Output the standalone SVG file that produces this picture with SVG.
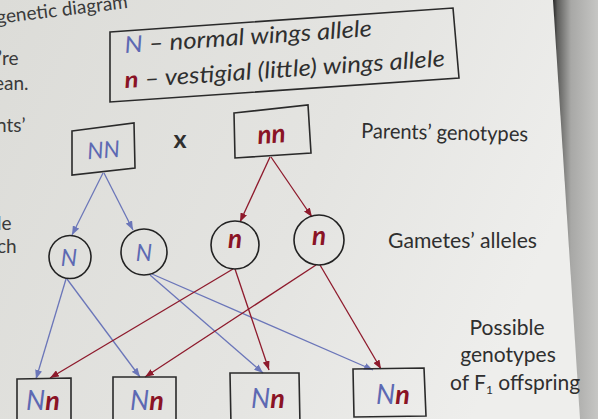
<svg xmlns="http://www.w3.org/2000/svg" width="598" height="419" viewBox="0 0 598 419">
<defs>
<linearGradient id="page" x1="0" y1="0" x2="1" y2="0.3">
<stop offset="0" stop-color="#dcdcd8"/>
<stop offset="0.6" stop-color="#e4e4e1"/>
<stop offset="1" stop-color="#eeeeec"/>
</linearGradient>
<linearGradient id="bind" x1="0" y1="0" x2="1" y2="0">
<stop offset="0" stop-color="#262626"/>
<stop offset="0.1" stop-color="#5e5e5c"/>
<stop offset="0.4" stop-color="#a8a8a6"/>
<stop offset="1" stop-color="#c6c6c4"/>
</linearGradient>
<marker id="ab" viewBox="0 0 9 7" refX="9" refY="3.5" markerWidth="9" markerHeight="7" markerUnits="userSpaceOnUse" orient="auto">
<path d="M0,0 L9,3.5 L0,7 z" fill="#6b76b9"/>
</marker>
<marker id="ar" viewBox="0 0 9 7" refX="9" refY="3.5" markerWidth="9" markerHeight="7" markerUnits="userSpaceOnUse" orient="auto">
<path d="M0,0 L9,3.5 L0,7 z" fill="#8e1a2c"/>
</marker>
</defs>
<style>
.box{fill:none;stroke:#2a2a2a;stroke-width:1.6}
.circ{fill:none;stroke:#222;stroke-width:1.6}
.lb{stroke:#6b76b9;stroke-width:1.3;fill:none;marker-end:url(#ab)}
.lr{stroke:#8e1a2c;stroke-width:1.3;fill:none;marker-end:url(#ar)}
.t{font-family:Lato,"Open Sans",sans-serif;fill:#2f2f2f}
.it{font-style:italic}
.B{fill:#5d69b3}
.R{fill:#8a1325;font-weight:bold}
.margin{font-family:Lato,"Open Sans",sans-serif;fill:#3a3a3a;font-size:19px}
</style>
<rect x="0" y="0" width="598" height="419" fill="url(#page)"/>
<polygon points="553,0 598,0 598,419 580,419" fill="url(#bind)"/>
<g id="margin-text">
<text class="margin" x="-3" y="24" transform="rotate(-7 -3 24)">genetic diagram</text>
<text class="margin" x="-2" y="65">’re</text>
<text class="margin" x="-6" y="90">ean.</text>
<text class="margin" x="-4" y="132">nts’</text>
<text class="margin" x="-3" y="230">le</text>
<text class="margin" x="-3" y="253">ch</text>
</g>
<g id="legend">
<polygon class="box" points="110,32 453,8 459,78 110,102"/>
<text class="t it" x="125" y="53" font-size="23" transform="rotate(-3.9 125 53)" textLength="248" lengthAdjust="spacingAndGlyphs"><tspan class="B">N</tspan> – normal wings allele</text>
<text class="t it" x="125" y="88" font-size="23" transform="rotate(-3.9 125 88)" textLength="321" lengthAdjust="spacingAndGlyphs"><tspan class="R" font-weight="normal">n</tspan> – vestigial (little) wings allele</text>
</g>
<g id="connectors">
<line class="lb" x1="103" y1="173" x2="72" y2="235"/>
<line class="lb" x1="104" y1="173" x2="133" y2="230"/>
<line class="lb" x1="66" y1="279" x2="36" y2="379"/>
<line class="lb" x1="67" y1="279" x2="140" y2="377"/>
<line class="lb" x1="150" y1="275" x2="263" y2="373"/>
<line class="lb" x1="152" y1="274" x2="373" y2="370"/>
<line class="lr" x1="270" y1="157" x2="240" y2="222"/>
<line class="lr" x1="271" y1="157" x2="312" y2="217"/>
<line class="lr" x1="233" y1="269" x2="50" y2="378"/>
<line class="lr" x1="235" y1="269" x2="269" y2="370"/>
<line class="lr" x1="316" y1="265" x2="145" y2="377"/>
<line class="lr" x1="320" y1="265" x2="381" y2="369"/>
</g>
<g id="parent-NN">
<polygon class="box" points="72,131 134,123 135,168 72,175"/>
<text class="t it B" x="104" y="158" font-size="23" text-anchor="middle" transform="rotate(-4 104 158)">NN</text>
</g>
<g id="cross">
<text class="t" x="180" y="148" font-size="25" font-weight="bold" text-anchor="middle" fill="#111">x</text>
</g>
<g id="parent-nn">
<polygon class="box" points="234,113 308,105 311,153 235,158"/>
<text class="t it R" x="272" y="143" font-size="26" text-anchor="middle" transform="rotate(-4 272 143)">nn</text>
</g>
<g id="gamete-N1">
<ellipse class="circ" cx="70" cy="257" rx="21" ry="21.5"/>
<text class="t it B" x="69" y="266" font-size="23" text-anchor="middle">N</text>
</g>
<g id="gamete-N2">
<circle class="circ" cx="144" cy="252" r="23"/>
<text class="t it B" x="144" y="261" font-size="23" text-anchor="middle">N</text>
</g>
<g id="gamete-n1">
<circle class="circ" cx="235" cy="245" r="24"/>
<text class="t it R" x="235" y="248" font-size="26" text-anchor="middle">n</text>
</g>
<g id="gamete-n2">
<circle class="circ" cx="319" cy="240" r="25"/>
<text class="t it R" x="319" y="245" font-size="26" text-anchor="middle">n</text>
</g>
<g id="offspring-1">
<polygon class="box" points="17,379 71,378 71,425 17,425"/>
<text class="t it" x="43" y="410" font-size="27" text-anchor="middle"><tspan class="B">N</tspan><tspan class="R">n</tspan></text>
</g>
<g id="offspring-2">
<polygon class="box" points="113,377 176,377 176,425 113,425"/>
<text class="t it" x="147" y="410" font-size="27" text-anchor="middle"><tspan class="B">N</tspan><tspan class="R">n</tspan></text>
</g>
<g id="offspring-3">
<polygon class="box" points="230,373 299,373 300,425 231,425"/>
<text class="t it" x="268" y="408" font-size="27" text-anchor="middle"><tspan class="B">N</tspan><tspan class="R">n</tspan></text>
</g>
<g id="offspring-4">
<polygon class="box" points="353,369 424,368 426,416 354,417"/>
<text class="t it" x="393" y="404" font-size="27" text-anchor="middle"><tspan class="B">N</tspan><tspan class="R">n</tspan></text>
</g>
<g id="row-labels">
<text class="t" x="361" y="138" font-size="21" textLength="167" lengthAdjust="spacingAndGlyphs" transform="rotate(1.2 361 138)">Parents’ genotypes</text>
<text class="t" x="388" y="248" font-size="21" textLength="149" lengthAdjust="spacingAndGlyphs">Gametes’ alleles</text>
<text class="t" x="507" y="335" font-size="21" text-anchor="middle">Possible</text>
<text class="t" x="508" y="362" font-size="21" text-anchor="middle">genotypes</text>
<text class="t" x="450" y="390" font-size="21">of F<tspan font-size="12" dy="4">1</tspan><tspan dy="-4"> offspring</tspan></text>
</g>
</svg>
